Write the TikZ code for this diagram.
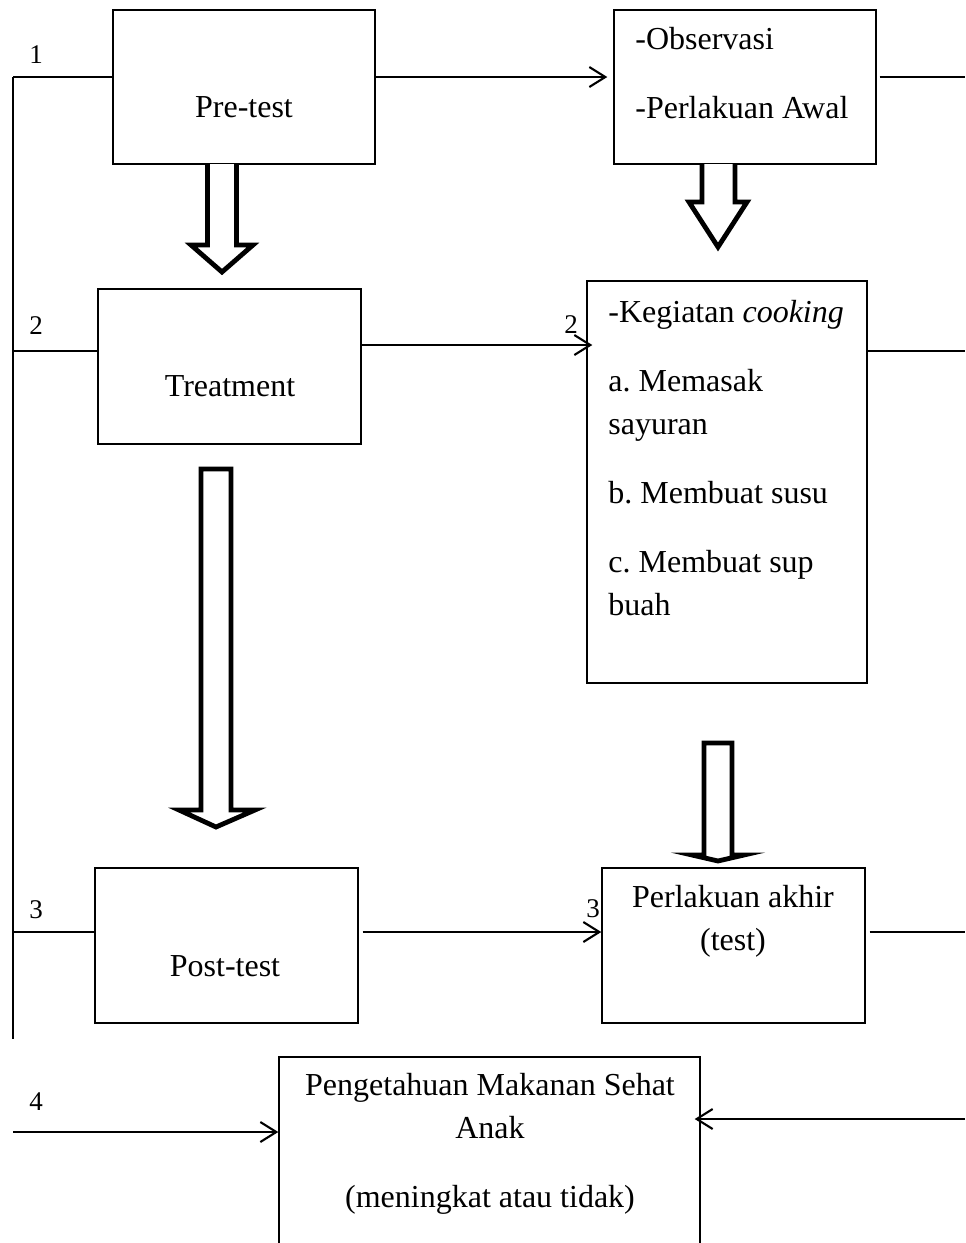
\documentclass[tikz,border=0pt]{standalone}
\usepackage{fontspec}
\setmainfont{Liberation Serif}
\usepackage{tikz}
\usetikzlibrary{positioning,arrows.meta}

\frenchspacing
\newcommand{\boxfont}{\fontsize{16}{21.5}\selectfont}
\newcommand{\numfont}{\fontsize{13.5}{16}\selectfont}

\begin{document}
\begin{tikzpicture}[x=0.5pt,y=-0.5pt]
	\tikzset{box style/.style={draw, line width=0.7pt, inner sep=0pt},
		text style/.style={font=\boxfont, inner sep=0pt},
		num style/.style={font=\numfont, inner sep=0pt, anchor=base},
		line style/.style={line width=1.05pt},
		open tip/.style={-{Straight Barb[length=8pt,width=10pt]}},
		fat arrow/.style={draw, line width=2.4pt, fill=white, line join=miter}}
	\useasboundingbox (0,0) rectangle (965,1243);
	\clip (0,0) rectangle (965,1243);
	% boxes
	\node[box style, minimum width=131pt, minimum height=77pt] (pre) at (244,87) {};
	\node[box style, minimum width=131pt, minimum height=77pt] (obs) at (745,87) {};
	\node[box style, minimum width=131.5pt, minimum height=77.5pt] (treat) at (229.5,366.5) {};
	\node[box style, minimum width=140pt, minimum height=201pt] (cook) at (727,482) {};
	\node[box style, minimum width=131.5pt, minimum height=77.5pt] (post) at (226.5,945.5) {};
	\node[box style, minimum width=131.5pt, minimum height=77.5pt] (akhir) at (733.5,945.5) {};
	\node[box style, minimum width=210.5pt, minimum height=116.5pt] (hasil) at (489.5,1173.5) {};
	% texts
	\node[text style, anchor=base] (pretext) at (244,117) {Pre-test};
	\node[text style, anchor=base] (treattext) at (230,396) {Treatment};
	\node[text style, anchor=base] (posttext) at (225,976) {Post-test};
	\node[text style, anchor=north west, align=left] (obstext) at (635,27) {-Observasi\\[13pt]-Perlakuan Awal};
	\node[text style, anchor=north west, align=left] (cooktext) at (608,300)
	   {-Kegiatan \textit{cooking}\\[13pt]a. Memasak\\sayuran\\[13pt]b. Membuat susu\\[13pt]c. Membuat sup\\buah};
	\node[text style, anchor=north, align=center] (akhirtext) at (733,885) {Perlakuan akhir\\(test)};
	\node[text style, anchor=north, align=center] (hasiltext) at (490,1073)
	   {Pengetahuan Makanan Sehat\\Anak\\[13pt](meningkat atau tidak)};
	% numbers
	\node[num style] (n1) at (36,63) {1};
	\node[num style] (n2) at (36,334) {2};
	\node[num style] (n3) at (36,918) {3};
	\node[num style] (n4) at (36,1110) {4};
	\node[num style] (m2) at (571,333) {2};
	\node[num style] (m3) at (593,917) {3};
	% rows
	\coordinate (r1) at (13,77);
	\coordinate (r2) at (13,351);
	\coordinate (r3) at (13,932);
	\coordinate (r4) at (13,1132);
	\coordinate (busend) at (13,1039);
	\coordinate (a2) at (13,345);
	\coordinate (e1) at (965,77);
	\coordinate (e2) at (965,351);
	\coordinate (e3) at (965,932);
	\coordinate (e4) at (965,1119);
	\draw[line style] (r1) -- (busend);
	\draw[line style] (r1) -- (r1 -| pre.west);
	\draw[line style] (r2) -- (r2 -| treat.west);
	\draw[line style] (r3) -- (r3 -| post.west);
	\draw[line style, open tip] (r4) -- (r4 -| hasil.west);
	\draw[line style, open tip] (r1 -| pre.east) -- ([xshift=-3pt]r1 -| obs.west);
	\draw[line style, open tip] (a2 -| treat.east) -- ([xshift=3pt]a2 -| cook.west);
	\draw[line style, open tip] ([xshift=2pt]r3 -| post.east) -- (r3 -| akhir.west);
	\draw[line style] ([xshift=1.5pt]e1 -| obs.east) -- (e1);
	\draw[line style] (e2 -| cook.east) -- (e2);
	\draw[line style] ([xshift=2pt]e3 -| akhir.east) -- (e3);
	\draw[line style, open tip] (e4) -- ([xshift=-3pt]e4 -| hasil.east);
	% hollow arrows
	\draw[fat arrow] (207.5,164) -- (207.5,245) -- (191,245) -- (222,272) -- (253,245) -- (236.5,245) -- (236.5,164);
	\draw[fat arrow] (702,164) -- (702,202) -- (689,202) -- (718,247) -- (747,202) -- (735,202) -- (735,164);
	\draw[fat arrow] (201,469) -- (201,810) -- (179,810) -- (216,827) -- (255,810) -- (231,810) -- (231,469) -- cycle;
	\draw[fat arrow] (704,743) -- (704,855) -- (692,855) -- (718,861) -- (744,855) -- (732,855) -- (732,743) -- cycle;
\end{tikzpicture}
\end{document}
